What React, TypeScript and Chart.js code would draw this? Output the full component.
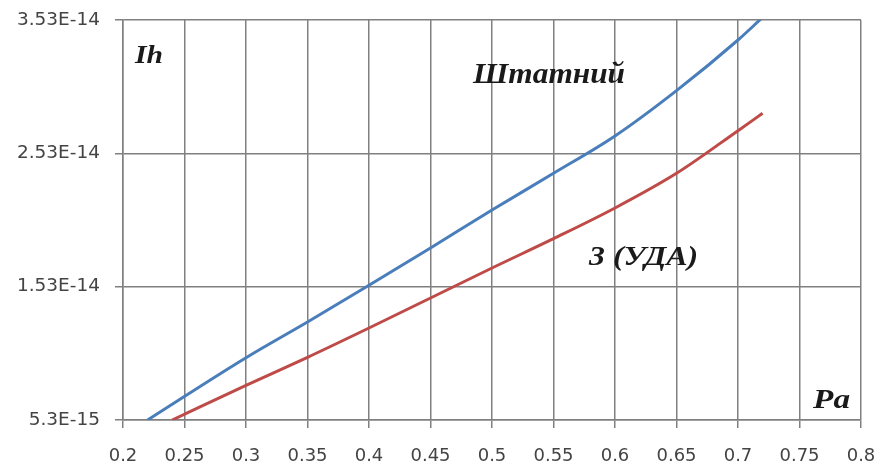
import React, { useEffect, useRef } from "react";
import { Chart, registerables } from "chart.js";

Chart.register(...registerables);

// x-axis (Pa)
const xTicks = [0.2, 0.25, 0.3, 0.35, 0.4, 0.45, 0.5, 0.55, 0.6, 0.65, 0.7, 0.75, 0.8];
// y-axis (Ih)
const yTicks = [5.3e-15, 1.53e-14, 2.53e-14, 3.53e-14];
const yTickLabels = ["5.3E-15", "1.53E-14", "2.53E-14", "3.53E-14"];

// Series "Штатний"
const stdX = [0.22, 0.3, 0.35, 0.4, 0.45, 0.5, 0.55, 0.6, 0.65, 0.7, 0.72];
const stdY = [5.3e-15, 9.97e-15, 12.65e-15, 15.4e-15, 18.2e-15, 21.05e-15, 23.8e-15, 26.6e-15, 30.0e-15, 33.8e-15, 35.5e-15];

// Series "3 (УДА)"
const udaX = [0.24, 0.3, 0.35, 0.4, 0.45, 0.5, 0.55, 0.6, 0.65, 0.7, 0.72];
const udaY = [5.3e-15, 7.9e-15, 10.0e-15, 12.2e-15, 14.45e-15, 16.7e-15, 18.9e-15, 21.2e-15, 23.8e-15, 27.0e-15, 28.3e-15];

const seriesNames = ["Штатний", "3 (УДА)"];
const axisNames = ["Ih", "Pa"];

type Note = { text: string; x: number; y: number; size: number; width: number };

const notes: Note[] = [
  { text: axisNames[0], x: 0.2098, y: 3.208e-14, size: 26, width: 28 },
  { text: seriesNames[0], x: 0.4846, y: 3.058e-14, size: 30, width: 152 },
  { text: seriesNames[1], x: 0.5789, y: 1.693e-14, size: 28, width: 109 },
  { text: axisNames[1], x: 0.761, y: 6.2e-15, size: 27, width: 37 },
];

const notePlugin = {
  id: "notes",
  afterDatasetsDraw(chart: any) {
    const ctx = chart.ctx as CanvasRenderingContext2D;
    const xs = chart.scales.x;
    const ys = chart.scales.y;
    ctx.save();
    ctx.fillStyle = "#1a1a1a";
    ctx.textBaseline = "alphabetic";
    ctx.textAlign = "left";
    for (const n of notes) {
      ctx.font = `italic bold ${n.size}px "Liberation Serif", "DejaVu Serif", serif`;
      const w = ctx.measureText(n.text).width;
      const sx = n.width / w;
      const px = xs.getPixelForValue(n.x);
      const py = ys.getPixelForValue(n.y);
      ctx.save();
      ctx.translate(px, py);
      ctx.scale(sx, 1);
      ctx.fillText(n.text, 0, 0);
      ctx.restore();
    }
    ctx.restore();
  },
};

export default function App() {
  const ref = useRef<HTMLCanvasElement | null>(null);

  useEffect(() => {
    document.body.style.margin = "0";
    const canvas = ref.current;
    if (!canvas) return;
    const chart = new Chart(canvas, {
      type: "line",
      data: {
        datasets: [
          {
            label: seriesNames[0],
            data: stdX.map((x, i) => ({ x, y: stdY[i] })),
            borderColor: "#4a7ebb",
            borderWidth: 3,
            pointRadius: 0,
            cubicInterpolationMode: "monotone",
            fill: false,
          },
          {
            label: seriesNames[1],
            data: udaX.map((x, i) => ({ x, y: udaY[i] })),
            borderColor: "#be4b48",
            borderWidth: 3,
            pointRadius: 0,
            cubicInterpolationMode: "monotone",
            fill: false,
          },
        ],
      },
      options: {
        responsive: false,
        animation: false,
        devicePixelRatio: 1,
        layout: { padding: { top: 20, right: 28, left: 0, bottom: 0 } },
        plugins: { legend: { display: false }, tooltip: { enabled: false } },
        scales: {
          x: {
            type: "linear",
            min: xTicks[0],
            max: xTicks[xTicks.length - 1],
            afterBuildTicks: (s: any) => {
              s.ticks = xTicks.map((v) => ({ value: v }));
            },
            afterFit: (s: any) => {
              s.height = 44;
              s.paddingLeft = 0;
              s.paddingRight = 0;
            },
            ticks: {
              autoSkip: false,
              maxRotation: 0,
              padding: 18,
              color: "#444",
              font: { family: "'DejaVu Sans', sans-serif", size: 18 },
              callback: (v: any) => String(Math.round(Number(v) * 100) / 100),
            },
            grid: { color: "#808080", lineWidth: 1.5, tickLength: 8 },
            border: { color: "#808080", width: 1.5 },
          },
          y: {
            type: "linear",
            min: yTicks[0],
            max: yTicks[yTicks.length - 1],
            afterBuildTicks: (s: any) => {
              s.ticks = yTicks.map((v) => ({ value: v }));
            },
            afterFit: (s: any) => {
              s.width = 123;
              s.paddingTop = 0;
              s.paddingBottom = 0;
            },
            ticks: {
              autoSkip: false,
              padding: 15,
              color: "#444",
              font: { family: "'DejaVu Sans', sans-serif", size: 18.5 },
              callback: (_v: any, i: number) => yTickLabels[i],
            },
            grid: { color: "#808080", lineWidth: 1.5, tickLength: 8 },
            border: { color: "#808080", width: 1.5 },
          },
        },
      },
      plugins: [notePlugin],
    } as any);
    return () => chart.destroy();
  }, []);

  return (
    <div style={{ width: 889, height: 464, background: "#fff" }}>
      <canvas ref={ref} width={889} height={464} />
    </div>
  );
}
